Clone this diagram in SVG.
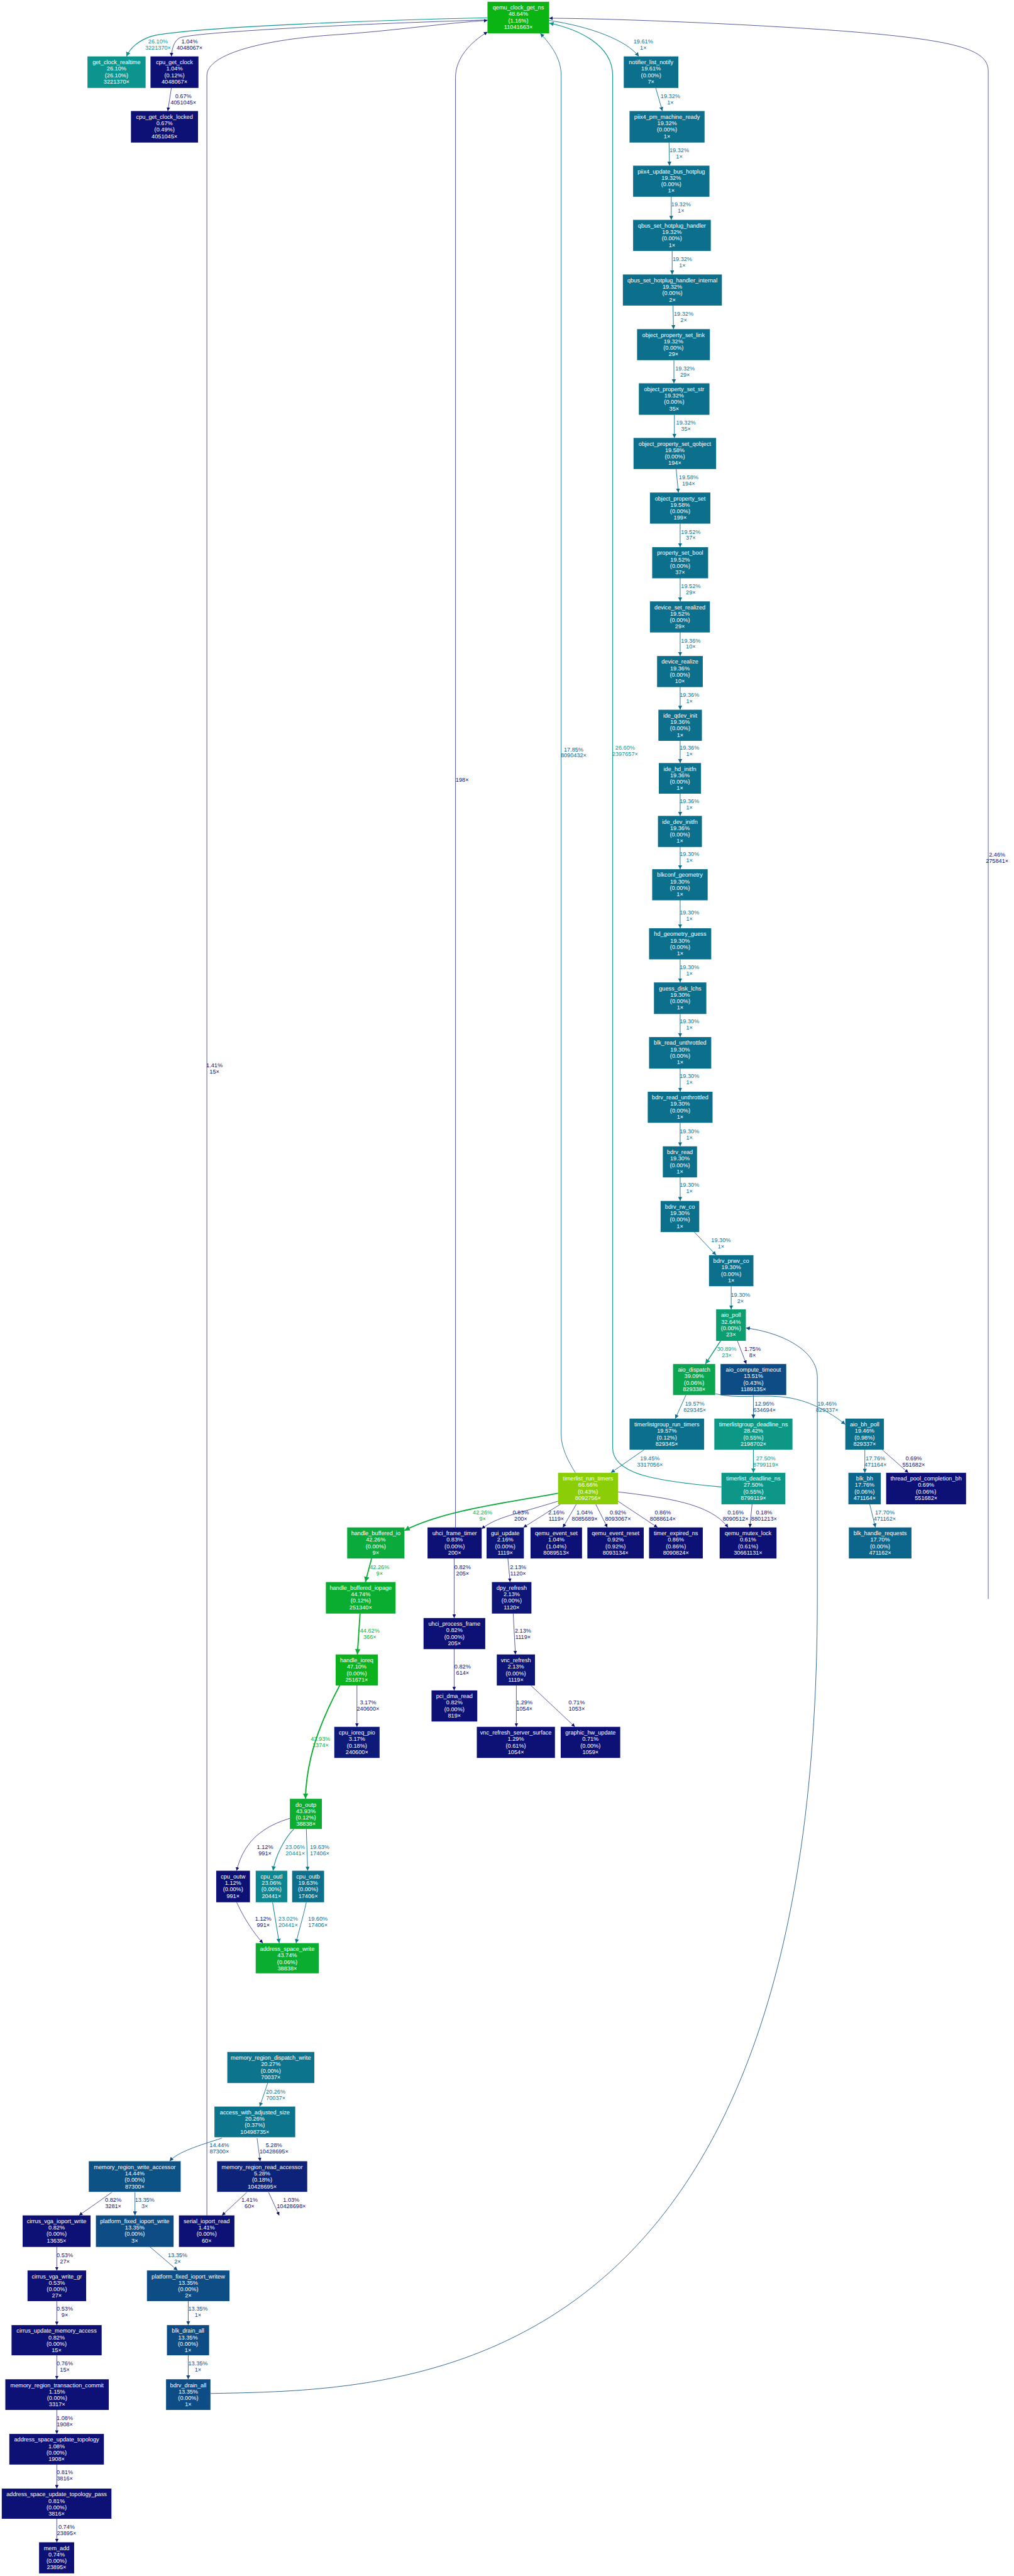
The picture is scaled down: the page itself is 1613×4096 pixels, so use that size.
<svg xmlns="http://www.w3.org/2000/svg" width="1613" height="4096" viewBox="0 0 1613 4096">
<style>
.nt{font-family:"Liberation Sans",Arial,sans-serif;font-size:13px;fill:#fff;text-anchor:middle}
.el{font-family:"Liberation Sans",Arial,sans-serif;font-size:13px;text-anchor:middle}
.e{fill:none}
.fN{fill:#0d1074}.fN2{fill:#0d1676}.fN3{fill:#0d1a77}.fB5{fill:#0d237a}.fB13{fill:#0d4c84}.fB14{fill:#0c5285}.fB17{fill:#0c658a}.fB19{fill:#0c6f8c}.fB20{fill:#0c758d}.fT23{fill:#0c8691}.fT26{fill:#0c958f}.fT27{fill:#0c9789}.fT28{fill:#0c9885}.fG30{fill:#0c9b7a}.fG32{fill:#0b9e71}.fG39{fill:#0ba64f}.fG42{fill:#0aab3c}.fG44{fill:#0aad30}.fG47{fill:#0ab21e}.fG48{fill:#0ab413}.fY{fill:#8bcd07}
.sN{stroke:#0d1074;stroke-width:1}.sN2{stroke:#0d1676;stroke-width:1}.sB5{stroke:#0d237a;stroke-width:1}.sB13{stroke:#0d4c84;stroke-width:1.2}.sB14{stroke:#0c5285;stroke-width:1.2}.sB17{stroke:#0c658a;stroke-width:1.2}.sB19{stroke:#0c6f8c;stroke-width:1.3}.sB20{stroke:#0c758d;stroke-width:1.3}.sT23{stroke:#0c8691;stroke-width:1.5}.sT26{stroke:#0c958f;stroke-width:1.6}.sT27{stroke:#0c9789;stroke-width:1.7}.sG30{stroke:#0c9b7a;stroke-width:2}.sG42{stroke:#0aab3c;stroke-width:2.6}.sG44{stroke:#0aad30;stroke-width:2.7}
</style>
<defs>
<marker id="mN" viewBox="0 0 10 10" refX="10" refY="5" markerWidth="8" markerHeight="8" markerUnits="userSpaceOnUse" orient="auto"><path d="M0,0L10,5L0,10z" fill="#0d1074"/></marker>
<marker id="mN2" viewBox="0 0 10 10" refX="10" refY="5" markerWidth="8" markerHeight="8" markerUnits="userSpaceOnUse" orient="auto"><path d="M0,0L10,5L0,10z" fill="#0d1676"/></marker>
<marker id="mB5" viewBox="0 0 10 10" refX="10" refY="5" markerWidth="8" markerHeight="8" markerUnits="userSpaceOnUse" orient="auto"><path d="M0,0L10,5L0,10z" fill="#0d237a"/></marker>
<marker id="mB13" viewBox="0 0 10 10" refX="10" refY="5" markerWidth="9" markerHeight="9" markerUnits="userSpaceOnUse" orient="auto"><path d="M0,0L10,5L0,10z" fill="#0d4c84"/></marker>
<marker id="mB14" viewBox="0 0 10 10" refX="10" refY="5" markerWidth="9" markerHeight="9" markerUnits="userSpaceOnUse" orient="auto"><path d="M0,0L10,5L0,10z" fill="#0c5285"/></marker>
<marker id="mB17" viewBox="0 0 10 10" refX="10" refY="5" markerWidth="9" markerHeight="9" markerUnits="userSpaceOnUse" orient="auto"><path d="M0,0L10,5L0,10z" fill="#0c658a"/></marker>
<marker id="mB19" viewBox="0 0 10 10" refX="10" refY="5" markerWidth="9" markerHeight="9" markerUnits="userSpaceOnUse" orient="auto"><path d="M0,0L10,5L0,10z" fill="#0c6f8c"/></marker>
<marker id="mB20" viewBox="0 0 10 10" refX="10" refY="5" markerWidth="9" markerHeight="9" markerUnits="userSpaceOnUse" orient="auto"><path d="M0,0L10,5L0,10z" fill="#0c758d"/></marker>
<marker id="mT23" viewBox="0 0 10 10" refX="10" refY="5" markerWidth="10" markerHeight="10" markerUnits="userSpaceOnUse" orient="auto"><path d="M0,0L10,5L0,10z" fill="#0c8691"/></marker>
<marker id="mT26" viewBox="0 0 10 10" refX="10" refY="5" markerWidth="10" markerHeight="10" markerUnits="userSpaceOnUse" orient="auto"><path d="M0,0L10,5L0,10z" fill="#0c958f"/></marker>
<marker id="mT27" viewBox="0 0 10 10" refX="10" refY="5" markerWidth="10" markerHeight="10" markerUnits="userSpaceOnUse" orient="auto"><path d="M0,0L10,5L0,10z" fill="#0c9789"/></marker>
<marker id="mG30" viewBox="0 0 10 10" refX="10" refY="5" markerWidth="11" markerHeight="11" markerUnits="userSpaceOnUse" orient="auto"><path d="M0,0L10,5L0,10z" fill="#0c9b7a"/></marker>
<marker id="mG42" viewBox="0 0 10 10" refX="10" refY="5" markerWidth="12" markerHeight="12" markerUnits="userSpaceOnUse" orient="auto"><path d="M0,0L10,5L0,10z" fill="#0aab3c"/></marker>
<marker id="mG44" viewBox="0 0 10 10" refX="10" refY="5" markerWidth="12" markerHeight="12" markerUnits="userSpaceOnUse" orient="auto"><path d="M0,0L10,5L0,10z" fill="#0aad30"/></marker>
</defs>
<rect width="1613" height="4096" fill="#fff"/>
<g transform="scale(0.70622)">
<g id="edges">
<path class="e sT26" d="M1098,40 C900,44 420,60 340,82 C310,92 292,110 285,127" marker-end="url(#mT26)"/>
<text class="el fT26" x="356" y="97.5"><tspan x="356">26.10%</tspan><tspan x="356" dy="14">3221370×</tspan></text>
<path class="e sN" d="M1098,45 C900,50 450,70 405,85 C392,92 387,110 386,127" marker-end="url(#mN)"/>
<text class="el fN" x="427" y="97.5"><tspan x="427">1.04%</tspan><tspan x="427" dy="14">4048067×</tspan></text>
<path class="e sN" d="M386,198 L378,250" marker-end="url(#mN)"/>
<text class="el fN" x="413" y="220.5"><tspan x="413">0.67%</tspan><tspan x="413" dy="14">4051045×</tspan></text>
<path class="e sN" d="M466,4988 L466,170 C466,120 600,88 760,78 C900,68 1000,52 1098,46" marker-end="url(#mN)"/>
<text class="el fN" x="483" y="2403.5"><tspan x="483">1.41%</tspan><tspan x="483" dy="14">15×</tspan></text>
<path class="e sN" d="M1026,3439 L1026,175 C1026,130 1060,95 1098,72" marker-end="url(#mN)"/>
<text class="el fN" x="1041" y="1760">198×</text>
<path class="e sB17" d="M1296,3316 C1280,3290 1264,3260 1264,3230 L1264,170 C1264,130 1240,100 1217,75" marker-end="url(#mB17)"/>
<text class="el fB17" x="1292" y="1691.5"><tspan x="1292">17.85%</tspan><tspan x="1292" dy="14">8090432×</tspan></text>
<path class="e sT26" d="M1625,3348 C1480,3335 1380,3320 1380,3260 L1380,170 C1380,100 1300,65 1237,52" marker-end="url(#mT26)"/>
<text class="el fT26" x="1408" y="1688.5"><tspan x="1408">26.60%</tspan><tspan x="1408" dy="14">2397657×</tspan></text>
<path class="e sN2" d="M2226,3600 L2226,160 C2226,110 2150,90 1900,70 C1700,55 1400,42 1237,41" marker-end="url(#mN2)"/>
<text class="el fN2" x="2246" y="1928.5"><tspan x="2246">2.46%</tspan><tspan x="2246" dy="14">275841×</tspan></text>
<path class="e sB19" d="M1237,46 C1330,60 1410,90 1439,127" marker-end="url(#mB19)"/>
<text class="el fB19" x="1449" y="97.5"><tspan x="1449">19.61%</tspan><tspan x="1449" dy="14">1×</tspan></text>
<path class="e sB19" d="M1477,198 L1492,250" marker-end="url(#mB19)"/>
<text class="el fB19" x="1510" y="220.5"><tspan x="1510">19.32%</tspan><tspan x="1510" dy="14">1×</tspan></text>
<path class="e sB19" d="M1507,321 L1508,373" marker-end="url(#mB19)"/>
<text class="el fB19" x="1530" y="342.5"><tspan x="1530">19.32%</tspan><tspan x="1530" dy="14">1×</tspan></text>
<path class="e sB19" d="M1512,442 L1512,495" marker-end="url(#mB19)"/>
<text class="el fB19" x="1534" y="464.5"><tspan x="1534">19.32%</tspan><tspan x="1534" dy="14">1×</tspan></text>
<path class="e sB19" d="M1514,565 L1514,618" marker-end="url(#mB19)"/>
<text class="el fB19" x="1537" y="587.5"><tspan x="1537">19.32%</tspan><tspan x="1537" dy="14">1×</tspan></text>
<path class="e sB19" d="M1516,688 L1517,741" marker-end="url(#mB19)"/>
<text class="el fB19" x="1540" y="710.5"><tspan x="1540">19.32%</tspan><tspan x="1540" dy="14">2×</tspan></text>
<path class="e sB19" d="M1518,811 L1518,863" marker-end="url(#mB19)"/>
<text class="el fB19" x="1543" y="833.5"><tspan x="1543">19.32%</tspan><tspan x="1543" dy="14">29×</tspan></text>
<path class="e sB19" d="M1519,934 L1519,986" marker-end="url(#mB19)"/>
<text class="el fB19" x="1545" y="956.5"><tspan x="1545">19.32%</tspan><tspan x="1545" dy="14">35×</tspan></text>
<path class="e sB19" d="M1523,1056 L1528,1109" marker-end="url(#mB19)"/>
<text class="el fB19" x="1551" y="1078.5"><tspan x="1551">19.58%</tspan><tspan x="1551" dy="14">194×</tspan></text>
<path class="e sB19" d="M1532,1179 L1532,1232" marker-end="url(#mB19)"/>
<text class="el fB19" x="1556" y="1201.5"><tspan x="1556">19.52%</tspan><tspan x="1556" dy="14">37×</tspan></text>
<path class="e sB19" d="M1532,1301 L1532,1354" marker-end="url(#mB19)"/>
<text class="el fB19" x="1556" y="1324.5"><tspan x="1556">19.52%</tspan><tspan x="1556" dy="14">29×</tspan></text>
<path class="e sB19" d="M1532,1423 L1532,1477" marker-end="url(#mB19)"/>
<text class="el fB19" x="1556" y="1446.5"><tspan x="1556">19.36%</tspan><tspan x="1556" dy="14">10×</tspan></text>
<path class="e sB19" d="M1532,1546 L1532,1598" marker-end="url(#mB19)"/>
<text class="el fB19" x="1553" y="1568.5"><tspan x="1553">19.36%</tspan><tspan x="1553" dy="14">1×</tspan></text>
<path class="e sB19" d="M1532,1667 L1532,1718" marker-end="url(#mB19)"/>
<text class="el fB19" x="1553" y="1688.5"><tspan x="1553">19.36%</tspan><tspan x="1553" dy="14">1×</tspan></text>
<path class="e sB19" d="M1532,1786 L1532,1837" marker-end="url(#mB19)"/>
<text class="el fB19" x="1553" y="1808.5"><tspan x="1553">19.36%</tspan><tspan x="1553" dy="14">1×</tspan></text>
<path class="e sB19" d="M1532,1906 L1532,1957" marker-end="url(#mB19)"/>
<text class="el fB19" x="1553" y="1927.5"><tspan x="1553">19.30%</tspan><tspan x="1553" dy="14">1×</tspan></text>
<path class="e sB19" d="M1532,2026 L1532,2090" marker-end="url(#mB19)"/>
<text class="el fB19" x="1553" y="2059.5"><tspan x="1553">19.30%</tspan><tspan x="1553" dy="14">1×</tspan></text>
<path class="e sB19" d="M1532,2160 L1532,2212" marker-end="url(#mB19)"/>
<text class="el fB19" x="1553" y="2182.5"><tspan x="1553">19.30%</tspan><tspan x="1553" dy="14">1×</tspan></text>
<path class="e sB19" d="M1532,2283 L1532,2335" marker-end="url(#mB19)"/>
<text class="el fB19" x="1553" y="2304.5"><tspan x="1553">19.30%</tspan><tspan x="1553" dy="14">1×</tspan></text>
<path class="e sB19" d="M1532,2406 L1532,2458" marker-end="url(#mB19)"/>
<text class="el fB19" x="1553" y="2427.5"><tspan x="1553">19.30%</tspan><tspan x="1553" dy="14">1×</tspan></text>
<path class="e sB19" d="M1532,2528 L1532,2581" marker-end="url(#mB19)"/>
<text class="el fB19" x="1553" y="2551.5"><tspan x="1553">19.30%</tspan><tspan x="1553" dy="14">1×</tspan></text>
<path class="e sB19" d="M1532,2651 L1532,2704" marker-end="url(#mB19)"/>
<text class="el fB19" x="1553" y="2672.5"><tspan x="1553">19.30%</tspan><tspan x="1553" dy="14">1×</tspan></text>
<path class="e sB19" d="M1564,2774 L1613,2826" marker-end="url(#mB19)"/>
<text class="el fB19" x="1624" y="2796.5"><tspan x="1624">19.30%</tspan><tspan x="1624" dy="14">1×</tspan></text>
<path class="e sB19" d="M1647,2896 L1647,2948" marker-end="url(#mB19)"/>
<text class="el fB19" x="1668" y="2919.5"><tspan x="1668">19.30%</tspan><tspan x="1668" dy="14">2×</tspan></text>
<path class="e sG30" d="M1623,3019 L1589,3071" marker-end="url(#mG30)"/>
<text class="el fG30" x="1637" y="3041.5"><tspan x="1637">30.89%</tspan><tspan x="1637" dy="14">23×</tspan></text>
<path class="e sN" d="M1661,3019 L1681,3071" marker-end="url(#mN)"/>
<text class="el fN" x="1695" y="3041.5"><tspan x="1695">1.75%</tspan><tspan x="1695" dy="14">8×</tspan></text>
<path class="e sB13" d="M1841,3600 L1841,3101 C1841,3040 1760,3000 1680,2990" marker-end="url(#mB13)"/>
<path class="e sB19" d="M1545,3141 L1521,3194" marker-end="url(#mB19)"/>
<text class="el fB19" x="1565" y="3164.5"><tspan x="1565">19.57%</tspan><tspan x="1565" dy="14">829345×</tspan></text>
<path class="e sB13" d="M1697,3141 L1697,3194" marker-end="url(#mB13)"/>
<text class="el fB13" x="1722" y="3164.5"><tspan x="1722">12.96%</tspan><tspan x="1722" dy="14">634694×</tspan></text>
<path class="e sB19" d="M1611,3138 C1660,3150 1700,3140 1760,3145 C1820,3150 1870,3180 1904,3207" marker-end="url(#mB19)"/>
<text class="el fB19" x="1863" y="3164.5"><tspan x="1863">19.46%</tspan><tspan x="1863" dy="14">829337×</tspan></text>
<path class="e sB19" d="M1451,3264 L1376,3316" marker-end="url(#mB19)"/>
<text class="el fB19" x="1464" y="3287.5"><tspan x="1464">19.45%</tspan><tspan x="1464" dy="14">3317056×</tspan></text>
<path class="e sT27" d="M1697,3264 L1697,3316" marker-end="url(#mT27)"/>
<text class="el fT27" x="1725" y="3287.5"><tspan x="1725">27.50%</tspan><tspan x="1725" dy="14">8799119×</tspan></text>
<path class="e sB17" d="M1948,3264 L1948,3316" marker-end="url(#mB17)"/>
<text class="el fB17" x="1972" y="3287.5"><tspan x="1972">17.76%</tspan><tspan x="1972" dy="14">471164×</tspan></text>
<path class="e sN" d="M1987,3264 L2046,3316" marker-end="url(#mN)"/>
<text class="el fN" x="2058" y="3287.5"><tspan x="2058">0.69%</tspan><tspan x="2058" dy="14">551682×</tspan></text>
<path class="e sG42" d="M1257,3362 C1150,3382 1000,3400 911,3446" marker-end="url(#mG42)"/>
<text class="el fG42" x="1087" y="3409.5"><tspan x="1087">42.26%</tspan><tspan x="1087" dy="14">9×</tspan></text>
<path class="e sN" d="M1257,3380 C1160,3410 1120,3415 1085,3442" marker-end="url(#mN)"/>
<text class="el fN" x="1173" y="3409.5"><tspan x="1173">0.83%</tspan><tspan x="1173" dy="14">200×</tspan></text>
<path class="e sN2" d="M1262,3387 L1179,3439" marker-end="url(#mN2)"/>
<text class="el fN2" x="1253" y="3409.5"><tspan x="1253">2.16%</tspan><tspan x="1253" dy="14">1119×</tspan></text>
<path class="e sN" d="M1298,3387 L1268,3439" marker-end="url(#mN)"/>
<text class="el fN" x="1317" y="3409.5"><tspan x="1317">1.04%</tspan><tspan x="1317" dy="14">8085689×</tspan></text>
<path class="e sN" d="M1342,3387 L1368,3439" marker-end="url(#mN)"/>
<text class="el fN" x="1392" y="3409.5"><tspan x="1392">0.92%</tspan><tspan x="1392" dy="14">8093067×</tspan></text>
<path class="e sN" d="M1392,3380 L1481,3439" marker-end="url(#mN)"/>
<text class="el fN" x="1493" y="3409.5"><tspan x="1493">0.86%</tspan><tspan x="1493" dy="14">8088614×</tspan></text>
<path class="e sN" d="M1392,3359 C1500,3372 1600,3385 1640,3439" marker-end="url(#mN)"/>
<text class="el fN" x="1657" y="3409.5"><tspan x="1657">0.16%</tspan><tspan x="1657" dy="14">8090512×</tspan></text>
<path class="e sN" d="M1694,3387 L1689,3439" marker-end="url(#mN)"/>
<text class="el fN" x="1721" y="3409.5"><tspan x="1721">0.18%</tspan><tspan x="1721" dy="14">8801213×</tspan></text>
<path class="e sB17" d="M1959,3387 L1972,3439" marker-end="url(#mB17)"/>
<text class="el fB17" x="1993" y="3409.5"><tspan x="1993">17.70%</tspan><tspan x="1993" dy="14">471162×</tspan></text>
<path class="e sG42" d="M837,3509 L823,3562" marker-end="url(#mG42)"/>
<text class="el fG42" x="855" y="3532.5"><tspan x="855">42.26%</tspan><tspan x="855" dy="14">9×</tspan></text>
<path class="e sN" d="M1023,3509 L1023,3643" marker-end="url(#mN)"/>
<text class="el fN" x="1042" y="3532.5"><tspan x="1042">0.82%</tspan><tspan x="1042" dy="14">205×</tspan></text>
<path class="e sN2" d="M1144,3509 L1149,3562" marker-end="url(#mN2)"/>
<text class="el fN2" x="1167" y="3532.5"><tspan x="1167">2.13%</tspan><tspan x="1167" dy="14">1120×</tspan></text>
<path class="e sG44" d="M811,3633 L805,3725" marker-end="url(#mG44)"/>
<text class="el fG44" x="833" y="3675.5"><tspan x="833">44.62%</tspan><tspan x="833" dy="14">366×</tspan></text>
<path class="e sN2" d="M1156,3633 L1161,3725" marker-end="url(#mN2)"/>
<text class="el fN2" x="1178" y="3675.5"><tspan x="1178">2.13%</tspan><tspan x="1178" dy="14">1119×</tspan></text>
<path class="e sN" d="M1023,3713 L1023,3806" marker-end="url(#mN)"/>
<text class="el fN" x="1042" y="3756.5"><tspan x="1042">0.82%</tspan><tspan x="1042" dy="14">614×</tspan></text>
<path class="e sN" d="M804,3795 L804,3888" marker-end="url(#mN)"/>
<text class="el fN" x="829" y="3837.5"><tspan x="829">3.17%</tspan><tspan x="829" dy="14">240600×</tspan></text>
<path class="e sG44" d="M765,3795 C720,3880 690,3960 688,4050" marker-end="url(#mG44)"/>
<text class="el fG44" x="722" y="3919.5"><tspan x="722">43.93%</tspan><tspan x="722" dy="14">1374×</tspan></text>
<path class="e sN" d="M1163,3795 L1163,3888" marker-end="url(#mN)"/>
<text class="el fN" x="1181" y="3837.5"><tspan x="1181">1.29%</tspan><tspan x="1181" dy="14">1054×</tspan></text>
<path class="e sN" d="M1196,3795 L1295,3888" marker-end="url(#mN)"/>
<text class="el fN" x="1299" y="3837.5"><tspan x="1299">0.71%</tspan><tspan x="1299" dy="14">1053×</tspan></text>
<path class="e sN" d="M653,4094 C600,4110 550,4140 533,4212" marker-end="url(#mN)"/>
<text class="el fN" x="597" y="4163.5"><tspan x="597">1.12%</tspan><tspan x="597" dy="14">991×</tspan></text>
<path class="e sT23" d="M662,4118 C640,4140 620,4180 615,4212" marker-end="url(#mT23)"/>
<text class="el fT23" x="665" y="4163.5"><tspan x="665">23.06%</tspan><tspan x="665" dy="14">20441×</tspan></text>
<path class="e sB19" d="M690,4118 L693,4212" marker-end="url(#mB19)"/>
<text class="el fB19" x="720" y="4163.5"><tspan x="720">19.63%</tspan><tspan x="720" dy="14">17406×</tspan></text>
<path class="e sN" d="M533,4283 C550,4320 570,4350 592,4375" marker-end="url(#mN)"/>
<text class="el fN" x="593" y="4324.5"><tspan x="593">1.12%</tspan><tspan x="593" dy="14">991×</tspan></text>
<path class="e sT23" d="M614,4283 C620,4320 625,4350 629,4375" marker-end="url(#mT23)"/>
<text class="el fT23" x="649" y="4324.5"><tspan x="649">23.02%</tspan><tspan x="649" dy="14">20441×</tspan></text>
<path class="e sB19" d="M690,4283 C682,4320 672,4350 667,4375" marker-end="url(#mB19)"/>
<text class="el fB19" x="716" y="4324.5"><tspan x="716">19.60%</tspan><tspan x="716" dy="14">17406×</tspan></text>
<path class="e sB20" d="M603,4690 L585,4743" marker-end="url(#mB20)"/>
<text class="el fB20" x="621" y="4713.5"><tspan x="621">20.26%</tspan><tspan x="621" dy="14">70037×</tspan></text>
<path class="e sB14" d="M500,4814 C450,4830 400,4845 382,4866" marker-end="url(#mB14)"/>
<text class="el fB14" x="494" y="4834.5"><tspan x="494">14.44%</tspan><tspan x="494" dy="14">87300×</tspan></text>
<path class="e sB5" d="M579,4814 L586,4866" marker-end="url(#mB5)"/>
<text class="el fB5" x="617" y="4834.5"><tspan x="617">5.28%</tspan><tspan x="617" dy="14">10428695×</tspan></text>
<path class="e sN" d="M252,4936 L178,4988" marker-end="url(#mN)"/>
<text class="el fN" x="255" y="4957.5"><tspan x="255">0.82%</tspan><tspan x="255" dy="14">3281×</tspan></text>
<path class="e sB13" d="M304,4936 L304,4988" marker-end="url(#mB13)"/>
<text class="el fB13" x="326" y="4957.5"><tspan x="326">13.35%</tspan><tspan x="326" dy="14">3×</tspan></text>
<path class="e sN" d="M556,4936 L500,4988" marker-end="url(#mN)"/>
<text class="el fN" x="562" y="4957.5"><tspan x="562">1.41%</tspan><tspan x="562" dy="14">60×</tspan></text>
<path class="e sN" d="M605,4936 L629,4988" marker-end="url(#mN)"/>
<text class="el fN" x="656" y="4957.5"><tspan x="656">1.03%</tspan><tspan x="656" dy="14">10428698×</tspan></text>
<path class="e sN" d="M128,5059 L128,5112" marker-end="url(#mN)"/>
<text class="el fN" x="146" y="5081.5"><tspan x="146">0.53%</tspan><tspan x="146" dy="14">27×</tspan></text>
<path class="e sB13" d="M338,5059 L400,5112" marker-end="url(#mB13)"/>
<text class="el fB13" x="400" y="5081.5"><tspan x="400">13.35%</tspan><tspan x="400" dy="14">2×</tspan></text>
<path class="e sN" d="M128,5181 L128,5235" marker-end="url(#mN)"/>
<text class="el fN" x="146" y="5202.5"><tspan x="146">0.53%</tspan><tspan x="146" dy="14">9×</tspan></text>
<path class="e sB13" d="M424,5181 L424,5235" marker-end="url(#mB13)"/>
<text class="el fB13" x="446" y="5202.5"><tspan x="446">13.35%</tspan><tspan x="446" dy="14">1×</tspan></text>
<path class="e sN" d="M128,5303 L128,5357" marker-end="url(#mN)"/>
<text class="el fN" x="146" y="5325.5"><tspan x="146">0.76%</tspan><tspan x="146" dy="14">15×</tspan></text>
<path class="e sB13" d="M424,5303 L424,5357" marker-end="url(#mB13)"/>
<text class="el fB13" x="446" y="5325.5"><tspan x="446">13.35%</tspan><tspan x="446" dy="14">1×</tspan></text>
<path class="e sN" d="M128,5426 L128,5480" marker-end="url(#mN)"/>
<text class="el fN" x="146" y="5448.5"><tspan x="146">1.08%</tspan><tspan x="146" dy="14">1908×</tspan></text>
<path class="e sN" d="M128,5549 L128,5603" marker-end="url(#mN)"/>
<text class="el fN" x="146" y="5570.5"><tspan x="146">0.81%</tspan><tspan x="146" dy="14">3816×</tspan></text>
<path class="e sN" d="M128,5671 L128,5724" marker-end="url(#mN)"/>
<text class="el fN" x="150" y="5693.5"><tspan x="150">0.74%</tspan><tspan x="150" dy="14">23895×</tspan></text>
<path class="e sB13" d="M474,5389 C900,5380 1841,5390 1841,3600"/>
</g>
<g id="n_qemu_clock_get_ns"><rect class="fG48" x="1098" y="4" width="139" height="71"/><text class="nt" y="21.5"><tspan x="1167.5">qemu_clock_get_ns</tspan><tspan x="1167.5" dy="14.5">48.64%</tspan><tspan x="1167.5" dy="14.5">(1.16%)</tspan><tspan x="1167.5" dy="14.5">11041663×</tspan></text></g>
<g id="n_get_clock_realtime"><rect class="fT26" x="197" y="127" width="131" height="71"/><text class="nt" y="144.5"><tspan x="262.5">get_clock_realtime</tspan><tspan x="262.5" dy="14.5">26.10%</tspan><tspan x="262.5" dy="14.5">(26.10%)</tspan><tspan x="262.5" dy="14.5">3221370×</tspan></text></g>
<g id="n_cpu_get_clock"><rect class="fN" x="339" y="127" width="108" height="71"/><text class="nt" y="144.5"><tspan x="393">cpu_get_clock</tspan><tspan x="393" dy="14.5">1.04%</tspan><tspan x="393" dy="14.5">(0.12%)</tspan><tspan x="393" dy="14.5">4048067×</tspan></text></g>
<g id="n_cpu_get_clock_locked"><rect class="fN" x="295" y="250" width="151" height="71"/><text class="nt" y="267.5"><tspan x="370.5">cpu_get_clock_locked</tspan><tspan x="370.5" dy="14.5">0.67%</tspan><tspan x="370.5" dy="14.5">(0.49%)</tspan><tspan x="370.5" dy="14.5">4051045×</tspan></text></g>
<g id="n_notifier_list_notify"><rect class="fB19" x="1405" y="127" width="123" height="71"/><text class="nt" y="144.5"><tspan x="1466.5">notifier_list_notify</tspan><tspan x="1466.5" dy="14.5">19.61%</tspan><tspan x="1466.5" dy="14.5">(0.00%)</tspan><tspan x="1466.5" dy="14.5">7×</tspan></text></g>
<g id="n_piix4_pm_machine_ready"><rect class="fB19" x="1418" y="250" width="169" height="71"/><text class="nt" y="267.5"><tspan x="1502.5">piix4_pm_machine_ready</tspan><tspan x="1502.5" dy="14.5">19.32%</tspan><tspan x="1502.5" dy="14.5">(0.00%)</tspan><tspan x="1502.5" dy="14.5">1×</tspan></text></g>
<g id="n_piix4_update_bus_hotplug"><rect class="fB19" x="1426" y="373" width="172" height="70"/><text class="nt" y="390.5"><tspan x="1512">piix4_update_bus_hotplug</tspan><tspan x="1512" dy="14.5">19.32%</tspan><tspan x="1512" dy="14.5">(0.00%)</tspan><tspan x="1512" dy="14.5">1×</tspan></text></g>
<g id="n_qbus_set_hotplug_handler"><rect class="fB19" x="1426" y="495" width="175" height="70"/><text class="nt" y="512.5"><tspan x="1513.5">qbus_set_hotplug_handler</tspan><tspan x="1513.5" dy="14.5">19.32%</tspan><tspan x="1513.5" dy="14.5">(0.00%)</tspan><tspan x="1513.5" dy="14.5">1×</tspan></text></g>
<g id="n_qbus_set_hotplug_handler_internal"><rect class="fB19" x="1403" y="618" width="223" height="70"/><text class="nt" y="635.5"><tspan x="1514.5">qbus_set_hotplug_handler_internal</tspan><tspan x="1514.5" dy="14.5">19.32%</tspan><tspan x="1514.5" dy="14.5">(0.00%)</tspan><tspan x="1514.5" dy="14.5">2×</tspan></text></g>
<g id="n_object_property_set_link"><rect class="fB19" x="1435" y="741" width="164" height="70"/><text class="nt" y="758.5"><tspan x="1517">object_property_set_link</tspan><tspan x="1517" dy="14.5">19.32%</tspan><tspan x="1517" dy="14.5">(0.00%)</tspan><tspan x="1517" dy="14.5">29×</tspan></text></g>
<g id="n_object_property_set_str"><rect class="fB19" x="1439" y="863" width="159" height="71"/><text class="nt" y="880.5"><tspan x="1518.5">object_property_set_str</tspan><tspan x="1518.5" dy="14.5">19.32%</tspan><tspan x="1518.5" dy="14.5">(0.00%)</tspan><tspan x="1518.5" dy="14.5">35×</tspan></text></g>
<g id="n_object_property_set_qobject"><rect class="fB19" x="1427" y="986" width="186" height="70"/><text class="nt" y="1003.5"><tspan x="1520">object_property_set_qobject</tspan><tspan x="1520" dy="14.5">19.58%</tspan><tspan x="1520" dy="14.5">(0.00%)</tspan><tspan x="1520" dy="14.5">194×</tspan></text></g>
<g id="n_object_property_set"><rect class="fB19" x="1464" y="1109" width="136" height="70"/><text class="nt" y="1126.5"><tspan x="1532">object_property_set</tspan><tspan x="1532" dy="14.5">19.58%</tspan><tspan x="1532" dy="14.5">(0.00%)</tspan><tspan x="1532" dy="14.5">199×</tspan></text></g>
<g id="n_property_set_bool"><rect class="fB19" x="1469" y="1232" width="126" height="70"/><text class="nt" y="1249.5"><tspan x="1532">property_set_bool</tspan><tspan x="1532" dy="14.5">19.52%</tspan><tspan x="1532" dy="14.5">(0.00%)</tspan><tspan x="1532" dy="14.5">37×</tspan></text></g>
<g id="n_device_set_realized"><rect class="fB19" x="1464" y="1354" width="135" height="70"/><text class="nt" y="1371.5"><tspan x="1531.5">device_set_realized</tspan><tspan x="1531.5" dy="14.5">19.52%</tspan><tspan x="1531.5" dy="14.5">(0.00%)</tspan><tspan x="1531.5" dy="14.5">29×</tspan></text></g>
<g id="n_device_realize"><rect class="fB19" x="1480" y="1477" width="103" height="70"/><text class="nt" y="1494.5"><tspan x="1531.5">device_realize</tspan><tspan x="1531.5" dy="14.5">19.36%</tspan><tspan x="1531.5" dy="14.5">(0.00%)</tspan><tspan x="1531.5" dy="14.5">10×</tspan></text></g>
<g id="n_ide_qdev_init"><rect class="fB19" x="1483" y="1598" width="98" height="70"/><text class="nt" y="1615.5"><tspan x="1532">ide_qdev_init</tspan><tspan x="1532" dy="14.5">19.36%</tspan><tspan x="1532" dy="14.5">(0.00%)</tspan><tspan x="1532" dy="14.5">1×</tspan></text></g>
<g id="n_ide_hd_initfn"><rect class="fB19" x="1484" y="1718" width="95" height="69"/><text class="nt" y="1735.5"><tspan x="1531.5">ide_hd_initfn</tspan><tspan x="1531.5" dy="14.5">19.36%</tspan><tspan x="1531.5" dy="14.5">(0.00%)</tspan><tspan x="1531.5" dy="14.5">1×</tspan></text></g>
<g id="n_ide_dev_initfn"><rect class="fB19" x="1482" y="1837" width="99" height="70"/><text class="nt" y="1854.5"><tspan x="1531.5">ide_dev_initfn</tspan><tspan x="1531.5" dy="14.5">19.36%</tspan><tspan x="1531.5" dy="14.5">(0.00%)</tspan><tspan x="1531.5" dy="14.5">1×</tspan></text></g>
<g id="n_blkconf_geometry"><rect class="fB19" x="1469" y="1957" width="125" height="70"/><text class="nt" y="1974.5"><tspan x="1531.5">blkconf_geometry</tspan><tspan x="1531.5" dy="14.5">19.30%</tspan><tspan x="1531.5" dy="14.5">(0.00%)</tspan><tspan x="1531.5" dy="14.5">1×</tspan></text></g>
<g id="n_hd_geometry_guess"><rect class="fB19" x="1462" y="2090" width="140" height="70"/><text class="nt" y="2107.5"><tspan x="1532">hd_geometry_guess</tspan><tspan x="1532" dy="14.5">19.30%</tspan><tspan x="1532" dy="14.5">(0.00%)</tspan><tspan x="1532" dy="14.5">1×</tspan></text></g>
<g id="n_guess_disk_lchs"><rect class="fB19" x="1473" y="2212" width="118" height="71"/><text class="nt" y="2229.5"><tspan x="1532">guess_disk_lchs</tspan><tspan x="1532" dy="14.5">19.30%</tspan><tspan x="1532" dy="14.5">(0.00%)</tspan><tspan x="1532" dy="14.5">1×</tspan></text></g>
<g id="n_blk_read_unthrottled"><rect class="fB19" x="1462" y="2335" width="140" height="71"/><text class="nt" y="2352.5"><tspan x="1532">blk_read_unthrottled</tspan><tspan x="1532" dy="14.5">19.30%</tspan><tspan x="1532" dy="14.5">(0.00%)</tspan><tspan x="1532" dy="14.5">1×</tspan></text></g>
<g id="n_bdrv_read_unthrottled"><rect class="fB19" x="1459" y="2458" width="146" height="70"/><text class="nt" y="2475.5"><tspan x="1532">bdrv_read_unthrottled</tspan><tspan x="1532" dy="14.5">19.30%</tspan><tspan x="1532" dy="14.5">(0.00%)</tspan><tspan x="1532" dy="14.5">1×</tspan></text></g>
<g id="n_bdrv_read"><rect class="fB19" x="1493" y="2581" width="77" height="70"/><text class="nt" y="2598.5"><tspan x="1531.5">bdrv_read</tspan><tspan x="1531.5" dy="14.5">19.30%</tspan><tspan x="1531.5" dy="14.5">(0.00%)</tspan><tspan x="1531.5" dy="14.5">1×</tspan></text></g>
<g id="n_bdrv_rw_co"><rect class="fB19" x="1488" y="2704" width="87" height="70"/><text class="nt" y="2721.5"><tspan x="1531.5">bdrv_rw_co</tspan><tspan x="1531.5" dy="14.5">19.30%</tspan><tspan x="1531.5" dy="14.5">(0.00%)</tspan><tspan x="1531.5" dy="14.5">1×</tspan></text></g>
<g id="n_bdrv_prwv_co"><rect class="fB19" x="1597" y="2826" width="100" height="70"/><text class="nt" y="2843.5"><tspan x="1647">bdrv_prwv_co</tspan><tspan x="1647" dy="14.5">19.30%</tspan><tspan x="1647" dy="14.5">(0.00%)</tspan><tspan x="1647" dy="14.5">1×</tspan></text></g>
<g id="n_aio_poll"><rect class="fG32" x="1613" y="2948" width="67" height="71"/><text class="nt" y="2965.5"><tspan x="1646.5">aio_poll</tspan><tspan x="1646.5" dy="14.5">32.64%</tspan><tspan x="1646.5" dy="14.5">(0.00%)</tspan><tspan x="1646.5" dy="14.5">23×</tspan></text></g>
<g id="n_aio_dispatch"><rect class="fG39" x="1516" y="3071" width="95" height="70"/><text class="nt" y="3088.5"><tspan x="1563.5">aio_dispatch</tspan><tspan x="1563.5" dy="14.5">39.09%</tspan><tspan x="1563.5" dy="14.5">(0.06%)</tspan><tspan x="1563.5" dy="14.5">829338×</tspan></text></g>
<g id="n_aio_compute_timeout"><rect class="fB13" x="1623" y="3071" width="148" height="70"/><text class="nt" y="3088.5"><tspan x="1697">aio_compute_timeout</tspan><tspan x="1697" dy="14.5">13.51%</tspan><tspan x="1697" dy="14.5">(0.43%)</tspan><tspan x="1697" dy="14.5">1189135×</tspan></text></g>
<g id="n_timerlistgroup_run_timers"><rect class="fB19" x="1418" y="3194" width="168" height="70"/><text class="nt" y="3211.5"><tspan x="1502">timerlistgroup_run_timers</tspan><tspan x="1502" dy="14.5">19.57%</tspan><tspan x="1502" dy="14.5">(0.12%)</tspan><tspan x="1502" dy="14.5">829345×</tspan></text></g>
<g id="n_timerlistgroup_deadline_ns"><rect class="fT28" x="1609" y="3194" width="176" height="70"/><text class="nt" y="3211.5"><tspan x="1697">timerlistgroup_deadline_ns</tspan><tspan x="1697" dy="14.5">28.42%</tspan><tspan x="1697" dy="14.5">(0.55%)</tspan><tspan x="1697" dy="14.5">2198702×</tspan></text></g>
<g id="n_aio_bh_poll"><rect class="fB19" x="1904" y="3194" width="87" height="70"/><text class="nt" y="3211.5"><tspan x="1947.5">aio_bh_poll</tspan><tspan x="1947.5" dy="14.5">19.46%</tspan><tspan x="1947.5" dy="14.5">(0.98%)</tspan><tspan x="1947.5" dy="14.5">829337×</tspan></text></g>
<g id="n_timerlist_run_timers"><rect class="fY" x="1257" y="3316" width="135" height="71"/><text class="nt" y="3333.5"><tspan x="1324.5">timerlist_run_timers</tspan><tspan x="1324.5" dy="14.5">66.66%</tspan><tspan x="1324.5" dy="14.5">(0.43%)</tspan><tspan x="1324.5" dy="14.5">8092756×</tspan></text></g>
<g id="n_timerlist_deadline_ns"><rect class="fT27" x="1625" y="3316" width="144" height="71"/><text class="nt" y="3333.5"><tspan x="1697">timerlist_deadline_ns</tspan><tspan x="1697" dy="14.5">27.50%</tspan><tspan x="1697" dy="14.5">(0.55%)</tspan><tspan x="1697" dy="14.5">8799119×</tspan></text></g>
<g id="n_blk_bh"><rect class="fB17" x="1911" y="3316" width="73" height="71"/><text class="nt" y="3333.5"><tspan x="1947.5">blk_bh</tspan><tspan x="1947.5" dy="14.5">17.76%</tspan><tspan x="1947.5" dy="14.5">(0.06%)</tspan><tspan x="1947.5" dy="14.5">471164×</tspan></text></g>
<g id="n_thread_pool_completion_bh"><rect class="fN" x="1996" y="3316" width="180" height="71"/><text class="nt" y="3333.5"><tspan x="2086">thread_pool_completion_bh</tspan><tspan x="2086" dy="14.5">0.69%</tspan><tspan x="2086" dy="14.5">(0.06%)</tspan><tspan x="2086" dy="14.5">551682×</tspan></text></g>
<g id="n_handle_buffered_io"><rect class="fG42" x="782" y="3439" width="129" height="70"/><text class="nt" y="3456.5"><tspan x="846.5">handle_buffered_io</tspan><tspan x="846.5" dy="14.5">42.26%</tspan><tspan x="846.5" dy="14.5">(0.00%)</tspan><tspan x="846.5" dy="14.5">9×</tspan></text></g>
<g id="n_uhci_frame_timer"><rect class="fN" x="963" y="3439" width="122" height="70"/><text class="nt" y="3456.5"><tspan x="1024">uhci_frame_timer</tspan><tspan x="1024" dy="14.5">0.83%</tspan><tspan x="1024" dy="14.5">(0.00%)</tspan><tspan x="1024" dy="14.5">200×</tspan></text></g>
<g id="n_gui_update"><rect class="fN2" x="1096" y="3439" width="84" height="70"/><text class="nt" y="3456.5"><tspan x="1138">gui_update</tspan><tspan x="1138" dy="14.5">2.16%</tspan><tspan x="1138" dy="14.5">(0.00%)</tspan><tspan x="1138" dy="14.5">1119×</tspan></text></g>
<g id="n_qemu_event_set"><rect class="fN" x="1195" y="3439" width="116" height="70"/><text class="nt" y="3456.5"><tspan x="1253">qemu_event_set</tspan><tspan x="1253" dy="14.5">1.04%</tspan><tspan x="1253" dy="14.5">(1.04%)</tspan><tspan x="1253" dy="14.5">8089513×</tspan></text></g>
<g id="n_qemu_event_reset"><rect class="fN" x="1323" y="3439" width="127" height="70"/><text class="nt" y="3456.5"><tspan x="1386.5">qemu_event_reset</tspan><tspan x="1386.5" dy="14.5">0.92%</tspan><tspan x="1386.5" dy="14.5">(0.92%)</tspan><tspan x="1386.5" dy="14.5">8093134×</tspan></text></g>
<g id="n_timer_expired_ns"><rect class="fN" x="1462" y="3439" width="121" height="70"/><text class="nt" y="3456.5"><tspan x="1522.5">timer_expired_ns</tspan><tspan x="1522.5" dy="14.5">0.86%</tspan><tspan x="1522.5" dy="14.5">(0.86%)</tspan><tspan x="1522.5" dy="14.5">8090824×</tspan></text></g>
<g id="n_qemu_mutex_lock"><rect class="fN" x="1621" y="3439" width="128" height="70"/><text class="nt" y="3456.5"><tspan x="1685">qemu_mutex_lock</tspan><tspan x="1685" dy="14.5">0.61%</tspan><tspan x="1685" dy="14.5">(0.61%)</tspan><tspan x="1685" dy="14.5">30661131×</tspan></text></g>
<g id="n_blk_handle_requests"><rect class="fB17" x="1912" y="3439" width="141" height="70"/><text class="nt" y="3456.5"><tspan x="1982.5">blk_handle_requests</tspan><tspan x="1982.5" dy="14.5">17.70%</tspan><tspan x="1982.5" dy="14.5">(0.00%)</tspan><tspan x="1982.5" dy="14.5">471162×</tspan></text></g>
<g id="n_handle_buffered_iopage"><rect class="fG44" x="734" y="3562" width="157" height="71"/><text class="nt" y="3579.5"><tspan x="812.5">handle_buffered_iopage</tspan><tspan x="812.5" dy="14.5">44.74%</tspan><tspan x="812.5" dy="14.5">(0.12%)</tspan><tspan x="812.5" dy="14.5">251340×</tspan></text></g>
<g id="n_dpy_refresh"><rect class="fN2" x="1108" y="3562" width="89" height="71"/><text class="nt" y="3579.5"><tspan x="1152.5">dpy_refresh</tspan><tspan x="1152.5" dy="14.5">2.13%</tspan><tspan x="1152.5" dy="14.5">(0.00%)</tspan><tspan x="1152.5" dy="14.5">1120×</tspan></text></g>
<g id="n_uhci_process_frame"><rect class="fN" x="954" y="3643" width="139" height="70"/><text class="nt" y="3660.5"><tspan x="1023.5">uhci_process_frame</tspan><tspan x="1023.5" dy="14.5">0.82%</tspan><tspan x="1023.5" dy="14.5">(0.00%)</tspan><tspan x="1023.5" dy="14.5">205×</tspan></text></g>
<g id="n_handle_ioreq"><rect class="fG47" x="756" y="3725" width="95" height="70"/><text class="nt" y="3742.5"><tspan x="803.5">handle_ioreq</tspan><tspan x="803.5" dy="14.5">47.10%</tspan><tspan x="803.5" dy="14.5">(0.00%)</tspan><tspan x="803.5" dy="14.5">251671×</tspan></text></g>
<g id="n_vnc_refresh"><rect class="fN2" x="1119" y="3725" width="86" height="70"/><text class="nt" y="3742.5"><tspan x="1162">vnc_refresh</tspan><tspan x="1162" dy="14.5">2.13%</tspan><tspan x="1162" dy="14.5">(0.00%)</tspan><tspan x="1162" dy="14.5">1119×</tspan></text></g>
<g id="n_pci_dma_read"><rect class="fN" x="972" y="3806" width="103" height="70"/><text class="nt" y="3823.5"><tspan x="1023.5">pci_dma_read</tspan><tspan x="1023.5" dy="14.5">0.82%</tspan><tspan x="1023.5" dy="14.5">(0.00%)</tspan><tspan x="1023.5" dy="14.5">819×</tspan></text></g>
<g id="n_cpu_ioreq_pio"><rect class="fN3" x="753" y="3888" width="102" height="70"/><text class="nt" y="3905.5"><tspan x="804">cpu_ioreq_pio</tspan><tspan x="804" dy="14.5">3.17%</tspan><tspan x="804" dy="14.5">(0.18%)</tspan><tspan x="804" dy="14.5">240600×</tspan></text></g>
<g id="n_vnc_refresh_server_surface"><rect class="fN" x="1074" y="3888" width="176" height="70"/><text class="nt" y="3905.5"><tspan x="1162">vnc_refresh_server_surface</tspan><tspan x="1162" dy="14.5">1.29%</tspan><tspan x="1162" dy="14.5">(0.61%)</tspan><tspan x="1162" dy="14.5">1054×</tspan></text></g>
<g id="n_graphic_hw_update"><rect class="fN" x="1263" y="3888" width="134" height="70"/><text class="nt" y="3905.5"><tspan x="1330">graphic_hw_update</tspan><tspan x="1330" dy="14.5">0.71%</tspan><tspan x="1330" dy="14.5">(0.00%)</tspan><tspan x="1330" dy="14.5">1059×</tspan></text></g>
<g id="n_do_outp"><rect class="fG44" x="653" y="4050" width="72" height="68"/><text class="nt" y="4067.5"><tspan x="689">do_outp</tspan><tspan x="689" dy="14.5">43.93%</tspan><tspan x="689" dy="14.5">(0.12%)</tspan><tspan x="689" dy="14.5">38838×</tspan></text></g>
<g id="n_cpu_outw"><rect class="fN" x="487" y="4212" width="76" height="71"/><text class="nt" y="4229.5"><tspan x="525">cpu_outw</tspan><tspan x="525" dy="14.5">1.12%</tspan><tspan x="525" dy="14.5">(0.00%)</tspan><tspan x="525" dy="14.5">991×</tspan></text></g>
<g id="n_cpu_outl"><rect class="fT23" x="576" y="4212" width="71" height="71"/><text class="nt" y="4229.5"><tspan x="611.5">cpu_outl</tspan><tspan x="611.5" dy="14.5">23.06%</tspan><tspan x="611.5" dy="14.5">(0.00%)</tspan><tspan x="611.5" dy="14.5">20441×</tspan></text></g>
<g id="n_cpu_outb"><rect class="fB19" x="658" y="4212" width="72" height="71"/><text class="nt" y="4229.5"><tspan x="694">cpu_outb</tspan><tspan x="694" dy="14.5">19.63%</tspan><tspan x="694" dy="14.5">(0.00%)</tspan><tspan x="694" dy="14.5">17406×</tspan></text></g>
<g id="n_address_space_write"><rect class="fG44" x="576" y="4375" width="142" height="68"/><text class="nt" y="4392.5"><tspan x="647">address_space_write</tspan><tspan x="647" dy="14.5">43.74%</tspan><tspan x="647" dy="14.5">(0.06%)</tspan><tspan x="647" dy="14.5">38838×</tspan></text></g>
<g id="n_memory_region_dispatch_write"><rect class="fB20" x="512" y="4620" width="196" height="70"/><text class="nt" y="4637.5"><tspan x="610">memory_region_dispatch_write</tspan><tspan x="610" dy="14.5">20.27%</tspan><tspan x="610" dy="14.5">(0.00%)</tspan><tspan x="610" dy="14.5">70037×</tspan></text></g>
<g id="n_access_with_adjusted_size"><rect class="fB20" x="483" y="4743" width="182" height="69"/><text class="nt" y="4760.5"><tspan x="574">access_with_adjusted_size</tspan><tspan x="574" dy="14.5">20.26%</tspan><tspan x="574" dy="14.5">(0.37%)</tspan><tspan x="574" dy="14.5">10498735×</tspan></text></g>
<g id="n_memory_region_write_accessor"><rect class="fB14" x="200" y="4866" width="207" height="69"/><text class="nt" y="4883.5"><tspan x="303.5">memory_region_write_accessor</tspan><tspan x="303.5" dy="14.5">14.44%</tspan><tspan x="303.5" dy="14.5">(0.00%)</tspan><tspan x="303.5" dy="14.5">87300×</tspan></text></g>
<g id="n_memory_region_read_accessor"><rect class="fB5" x="489" y="4866" width="203" height="69"/><text class="nt" y="4883.5"><tspan x="590.5">memory_region_read_accessor</tspan><tspan x="590.5" dy="14.5">5.28%</tspan><tspan x="590.5" dy="14.5">(0.18%)</tspan><tspan x="590.5" dy="14.5">10428695×</tspan></text></g>
<g id="n_cirrus_vga_ioport_write"><rect class="fN" x="51" y="4988" width="153" height="71"/><text class="nt" y="5005.5"><tspan x="127.5">cirrus_vga_ioport_write</tspan><tspan x="127.5" dy="14.5">0.82%</tspan><tspan x="127.5" dy="14.5">(0.00%)</tspan><tspan x="127.5" dy="14.5">13635×</tspan></text></g>
<g id="n_platform_fixed_ioport_write"><rect class="fB13" x="216" y="4988" width="175" height="71"/><text class="nt" y="5005.5"><tspan x="303.5">platform_fixed_ioport_write</tspan><tspan x="303.5" dy="14.5">13.35%</tspan><tspan x="303.5" dy="14.5">(0.00%)</tspan><tspan x="303.5" dy="14.5">3×</tspan></text></g>
<g id="n_serial_ioport_read"><rect class="fN" x="403" y="4988" width="125" height="71"/><text class="nt" y="5005.5"><tspan x="465.5">serial_ioport_read</tspan><tspan x="465.5" dy="14.5">1.41%</tspan><tspan x="465.5" dy="14.5">(0.00%)</tspan><tspan x="465.5" dy="14.5">60×</tspan></text></g>
<g id="n_cirrus_vga_write_gr"><rect class="fN" x="62" y="5112" width="132" height="69"/><text class="nt" y="5129.5"><tspan x="128">cirrus_vga_write_gr</tspan><tspan x="128" dy="14.5">0.53%</tspan><tspan x="128" dy="14.5">(0.00%)</tspan><tspan x="128" dy="14.5">27×</tspan></text></g>
<g id="n_platform_fixed_ioport_writew"><rect class="fB13" x="331" y="5112" width="186" height="69"/><text class="nt" y="5129.5"><tspan x="424">platform_fixed_ioport_writew</tspan><tspan x="424" dy="14.5">13.35%</tspan><tspan x="424" dy="14.5">(0.00%)</tspan><tspan x="424" dy="14.5">2×</tspan></text></g>
<g id="n_cirrus_update_memory_access"><rect class="fN" x="26" y="5235" width="203" height="68"/><text class="nt" y="5252.5"><tspan x="127.5">cirrus_update_memory_access</tspan><tspan x="127.5" dy="14.5">0.82%</tspan><tspan x="127.5" dy="14.5">(0.00%)</tspan><tspan x="127.5" dy="14.5">15×</tspan></text></g>
<g id="n_blk_drain_all"><rect class="fB13" x="376" y="5235" width="95" height="68"/><text class="nt" y="5252.5"><tspan x="423.5">blk_drain_all</tspan><tspan x="423.5" dy="14.5">13.35%</tspan><tspan x="423.5" dy="14.5">(0.00%)</tspan><tspan x="423.5" dy="14.5">1×</tspan></text></g>
<g id="n_memory_region_transaction_commit"><rect class="fN" x="12" y="5357" width="233" height="69"/><text class="nt" y="5374.5"><tspan x="128.5">memory_region_transaction_commit</tspan><tspan x="128.5" dy="14.5">1.15%</tspan><tspan x="128.5" dy="14.5">(0.00%)</tspan><tspan x="128.5" dy="14.5">3317×</tspan></text></g>
<g id="n_bdrv_drain_all"><rect class="fB13" x="374" y="5357" width="100" height="69"/><text class="nt" y="5374.5"><tspan x="424">bdrv_drain_all</tspan><tspan x="424" dy="14.5">13.35%</tspan><tspan x="424" dy="14.5">(0.00%)</tspan><tspan x="424" dy="14.5">1×</tspan></text></g>
<g id="n_address_space_update_topology"><rect class="fN" x="21" y="5480" width="213" height="69"/><text class="nt" y="5497.5"><tspan x="127.5">address_space_update_topology</tspan><tspan x="127.5" dy="14.5">1.08%</tspan><tspan x="127.5" dy="14.5">(0.00%)</tspan><tspan x="127.5" dy="14.5">1908×</tspan></text></g>
<g id="n_address_space_update_topology_pass"><rect class="fN" x="4" y="5603" width="247" height="68"/><text class="nt" y="5620.5"><tspan x="127.5">address_space_update_topology_pass</tspan><tspan x="127.5" dy="14.5">0.81%</tspan><tspan x="127.5" dy="14.5">(0.00%)</tspan><tspan x="127.5" dy="14.5">3816×</tspan></text></g>
<g id="n_mem_add"><rect class="fN" x="88" y="5724" width="79" height="70"/><text class="nt" y="5741.5"><tspan x="127.5">mem_add</tspan><tspan x="127.5" dy="14.5">0.74%</tspan><tspan x="127.5" dy="14.5">(0.00%)</tspan><tspan x="127.5" dy="14.5">23895×</tspan></text></g>
</g>
</svg>
